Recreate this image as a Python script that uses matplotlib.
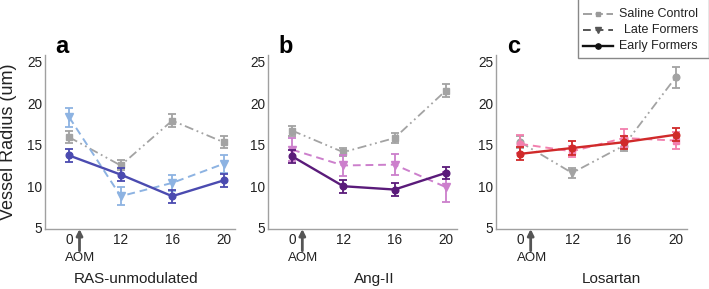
import matplotlib
matplotlib.use("Agg")
import matplotlib.pyplot as plt
from matplotlib.patches import Rectangle
from matplotlib.lines import Line2D

plt.rcParams['font.family'] = ['Liberation Sans', 'DejaVu Sans']

weeks = ['0', '12', '16', '20']
panels = ['a', 'b', 'c']
titles = ['RAS-unmodulated', 'Ang-II', 'Losartan']
series_names = ['Saline Control', 'Late Formers', 'Early Formers']

# Panel a: RAS-unmodulated
a_saline = [15.9, 12.5, 17.9, 15.3]
a_saline_err = [0.75, 0.6, 0.75, 0.7]
a_late = [18.3, 8.8, 10.4, 12.7]
a_late_err = [1.15, 1.1, 1.0, 1.1]
a_early = [13.7, 11.4, 8.8, 10.7]
a_early_err = [0.8, 0.8, 0.8, 0.8]

# Panel b: Ang-II
b_saline = [16.7, 14.1, 15.8, 21.5]
b_saline_err = [0.6, 0.5, 0.6, 0.8]
b_late = [14.4, 12.5, 12.6, 9.9]
b_late_err = [1.4, 1.3, 1.3, 1.8]
b_early = [13.6, 10.0, 9.6, 11.6]
b_early_err = [0.75, 0.8, 0.75, 0.75]

# Panel c: Losartan
c_saline = [15.3, 11.6, 14.9, 23.1]
c_saline_err = [0.7, 0.65, 0.6, 1.25]
c_late = [15.1, 14.2, 15.8, 15.5]
c_late_err = [1.05, 0.7, 1.1, 1.0]
c_early = [13.9, 14.6, 15.3, 16.2]
c_early_err = [0.8, 0.8, 0.8, 0.8]

data = [
    [(a_saline, a_saline_err), (a_late, a_late_err), (a_early, a_early_err)],
    [(b_saline, b_saline_err), (b_late, b_late_err), (b_early, b_early_err)],
    [(c_saline, c_saline_err), (c_late, c_late_err), (c_early, c_early_err)],
]

gray = '#a3a3a3'
colors = [
    [gray, '#8db3e2', '#4b4bb0'],
    [gray, '#cc7fcc', '#5a1b7a'],
    [gray, '#f27fae', '#d02a2a'],
]
styles = [(0, (5, 2, 1, 2, 1, 2)), (0, (4, 2.5)), '-']
lws = [1.3, 1.4, 1.7]
markers = [
    [['s'] * 4, ['v'] * 4, ['o'] * 4],
    [['s'] * 4, ['v'] * 4, ['o'] * 4],
    [['o', 'v', 'o', 'o'], ['o', 's', 'o', 's'], ['o'] * 4],
]
msizes = {'s': 4.4, 'v': 5.7, 'o': 4.8}

W, H = 709, 289
fig = plt.figure(figsize=(W / 100, H / 100), dpi=100)

ax_px = [(45, 235), (268, 457), (496, 687)]
top_px, bot_px = 55, 229
x = list(range(1, len(weeks) + 1))

for p in range(3):
    l, r = ax_px[p]
    ax = fig.add_axes([l / W, 1 - bot_px / H, (r - l) / W, (bot_px - top_px) / H])
    for s in range(3):
        vals, errs = data[p][s]
        col = colors[p][s]
        ax.errorbar(x, vals, yerr=errs, fmt='none', ecolor=col, elinewidth=1.3,
                    capsize=3.2, capthick=1.3, zorder=2 + s)
        ax.plot(x, vals, color=col, linestyle=styles[s], lw=lws[s], zorder=2 + s)
        for xi, yi, m in zip(x, vals, markers[p][s]):
            ax.plot([xi], [yi], marker=m, ms=msizes[m], color=col, mec=col,
                    linestyle='none', zorder=3 + s)
    ax.set_xlim(0.53, 4.22)
    ax.set_ylim(4.85, 25.8)
    ax.set_xticks(x)
    ax.set_xticklabels(weeks)
    ax.set_yticks([5, 10, 15, 20, 25])
    ax.tick_params(length=0, labelsize=9.8, colors='#222222', pad=3)
    ax.tick_params(axis='y', pad=2)
    for sp in ['top', 'right']:
        ax.spines[sp].set_visible(False)
    for sp in ['left', 'bottom']:
        ax.spines[sp].set_color('#a0a0a0')
        ax.spines[sp].set_linewidth(1.0)
    ax.annotate('', xy=(1.2, 0), xycoords=('data', 'axes fraction'),
                xytext=(1.2, -0.125), textcoords=('data', 'axes fraction'),
                arrowprops=dict(arrowstyle='-|>', color='#555555', lw=2.0,
                                mutation_scale=9, shrinkA=0, shrinkB=0),
                annotation_clip=False)
    ax.text(1.22, -0.165, 'AOM', transform=ax.get_xaxis_transform(),
            ha='center', va='center', fontsize=9.5, color='#222222', clip_on=False)

ov = fig.add_axes([0, 0, 1, 1], zorder=10)
ov.set_xlim(0, W)
ov.set_ylim(H, 0)
ov.axis('off')

letter_x = [55, 278, 507]
for p in range(3):
    ov.text(letter_x[p], 53, panels[p], fontsize=17, fontweight='bold',
            ha='left', va='baseline', color='black')

title_x = [136, 374, 611]
for p in range(3):
    ov.text(title_x[p], 279, titles[p], fontsize=11, ha='center', va='center',
            color='#222222')

ov.text(9, 142, 'Vessel Radius (um)', fontsize=13, rotation=90,
        ha='center', va='center', color='#222222')

# legend
ov.add_patch(Rectangle((578, -2), 131, 60, facecolor='white', edgecolor='#888888',
                       lw=1.0, zorder=20))
leg_y = [14, 30, 46]
leg_cols = ['#999999', '#555555', '#111111']
leg_m = ['s', 'v', 'o']
for i in range(3):
    ov.add_line(Line2D([583, 613], [leg_y[i], leg_y[i]], color=leg_cols[i],
                       linestyle=styles[i], lw=lws[i], zorder=21))
    ov.add_line(Line2D([598], [leg_y[i]], marker=leg_m[i], ms=msizes[leg_m[i]] - 1.0,
                       color=leg_cols[i], linestyle='none', zorder=22))
    ov.text(698, leg_y[i], series_names[i], fontsize=9, ha='right', va='center',
            color='#222222', zorder=23)

fig.savefig('out.png', dpi=100)
